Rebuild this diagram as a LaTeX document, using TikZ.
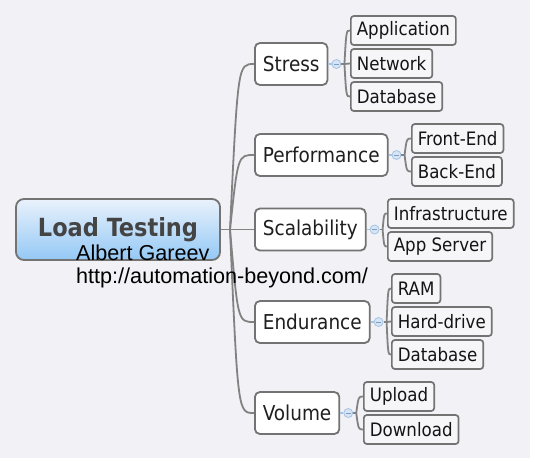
\documentclass[tikz,border=0pt]{standalone}
\usepackage{fontspec}
\setmainfont{DejaVu Sans Condensed}
\newfontfamily\authorfont{Liberation Sans}
\usetikzlibrary{calc}

\definecolor{bggray}{RGB}{241,241,246}
\definecolor{boxgray}{RGB}{115,115,115}
\definecolor{linegray}{RGB}{130,130,130}
\definecolor{subfill}{RGB}{246,246,248}
\definecolor{foldfill}{RGB}{214,229,245}
\definecolor{foldline}{RGB}{165,195,228}
\definecolor{roottop}{RGB}{233,242,252}
\definecolor{rootbottom}{RGB}{148,200,245}
\definecolor{roottext}{RGB}{68,68,68}

\begin{document}
\begin{tikzpicture}[x=1pt, y=-1pt,
	root/.style={draw=boxgray, line width=1.8pt, rounded corners=8pt, top color=roottop, bottom color=rootbottom, minimum width=204pt, minimum height=61pt, font=\bfseries\fontsize{25}{27}\selectfont, text=roottext},
	topic/.style={draw=boxgray, line width=1.8pt, fill=white, rounded corners=5pt, minimum height=42pt, inner xsep=8pt, anchor=west, font=\fontsize{20.5}{22}\selectfont, text=black!88},
	subtopic/.style={draw=boxgray, line width=1.7pt, fill=subfill, rounded corners=3pt, minimum height=29pt, inner xsep=6pt, anchor=west, font=\fontsize{18.5}{20}\selectfont, text=black!92},
	branch/.style={draw=linegray, line width=1.8pt},
	foldlink/.style={draw=foldline, line width=1.6pt},
	fold/.style={circle, draw=foldline, fill=foldfill, line width=0.8pt, inner sep=0pt, minimum size=9pt,
		path picture={\draw[foldline!80!black, line width=0.6pt] ([xshift=2pt]path picture bounding box.west) -- ([xshift=-2pt]path picture bounding box.east);}},
	author/.style={anchor=base west, inner sep=0pt, font=\authorfont\fontsize{21.6}{23}\selectfont}]

	% page
	\fill[white] (0,0) rectangle (535,461);
	\fill[bggray] (0,0) rectangle (530,458);

	% central topic
	\node[root] (root) at (118,229.5) {Load Testing};
	\coordinate (hub) at (230,229.5);

	% main topics
	\node[topic] (stress) at (254,64) {Stress};
	\node[topic] (perf) at (254,155) {Performance};
	\node[topic] (scal) at (254,229.5) {Scalability};
	\node[topic] (endur) at (254,322) {Endurance};
	\node[topic] (volume) at (254,413) {Volume};

	\draw[branch] (root.east) -- (scal.west);
	\foreach \c in {stress,perf,endur,volume}
		\draw[branch] (hub) .. controls ($(hub |- \c.west)!0.33!(\c.west)$) .. (\c.west);

	% Stress
	\node[subtopic] (app) at (350,30.5) {Application};
	\node[subtopic] (net) at (350,63.5) {Network};
	\node[subtopic] (sdb) at (350,96.5) {Database};
	\node[fold] (stressfold) at ($(stress.east)+(8,0)$) {};
	\coordinate (stresshub) at ($(stress.east)+(16,0)$);
	\draw[foldlink] (stress.east) -- (stressfold);
	\draw[branch] (stressfold) -- (stresshub);
	\foreach \c in {app,net,sdb}
		\draw[branch] (stresshub) .. controls ($(stresshub |- \c.west)!0.33!(\c.west)$) .. (\c.west);

	% Performance
	\node[subtopic] (front) at (411,138.5) {Front-End};
	\node[subtopic] (back) at (411,171.5) {Back-End};
	\node[fold] (perffold) at ($(perf.east)+(8,0)$) {};
	\coordinate (perfhub) at ($(perf.east)+(16,0)$);
	\draw[foldlink] (perf.east) -- (perffold);
	\draw[branch] (perffold) -- (perfhub);
	\foreach \c in {front,back}
		\draw[branch] (perfhub) .. controls ($(perfhub |- \c.west)!0.33!(\c.west)$) .. (\c.west);

	% Scalability
	\node[subtopic] (infra) at (387,213.5) {Infrastructure};
	\node[subtopic] (appsrv) at (387,246.5) {App Server};
	\node[fold] (scalfold) at ($(scal.east)+(8,0)$) {};
	\coordinate (scalhub) at ($(scal.east)+(16,0)$);
	\draw[foldlink] (scal.east) -- (scalfold);
	\draw[branch] (scalfold) -- (scalhub);
	\foreach \c in {infra,appsrv}
		\draw[branch] (scalhub) .. controls ($(scalhub |- \c.west)!0.33!(\c.west)$) .. (\c.west);

	% Endurance
	\node[subtopic] (ram) at (391,288.5) {RAM};
	\node[subtopic] (hdd) at (391,321.5) {Hard-drive};
	\node[subtopic] (edb) at (391,354.5) {Database};
	\node[fold] (endurfold) at ($(endur.east)+(8,0)$) {};
	\coordinate (endurhub) at ($(endur.east)+(16,0)$);
	\draw[foldlink] (endur.east) -- (endurfold);
	\draw[branch] (endurfold) -- (endurhub);
	\foreach \c in {ram,hdd,edb}
		\draw[branch] (endurhub) .. controls ($(endurhub |- \c.west)!0.33!(\c.west)$) .. (\c.west);

	% Volume
	\node[subtopic] (up) at (363,396.5) {Upload};
	\node[subtopic] (down) at (363,429.5) {Download};
	\node[fold] (volfold) at ($(volume.east)+(8,0)$) {};
	\coordinate (volhub) at ($(volume.east)+(16,0)$);
	\draw[foldlink] (volume.east) -- (volfold);
	\draw[branch] (volfold) -- (volhub);
	\foreach \c in {up,down}
		\draw[branch] (volhub) .. controls ($(volhub |- \c.west)!0.33!(\c.west)$) .. (\c.west);

	% author note
	\node[author] (name) at (76,260) {Albert Gareev};
	\node[author] (url) at (76,283) {http://automation-beyond.com/};
\end{tikzpicture}
\end{document}
